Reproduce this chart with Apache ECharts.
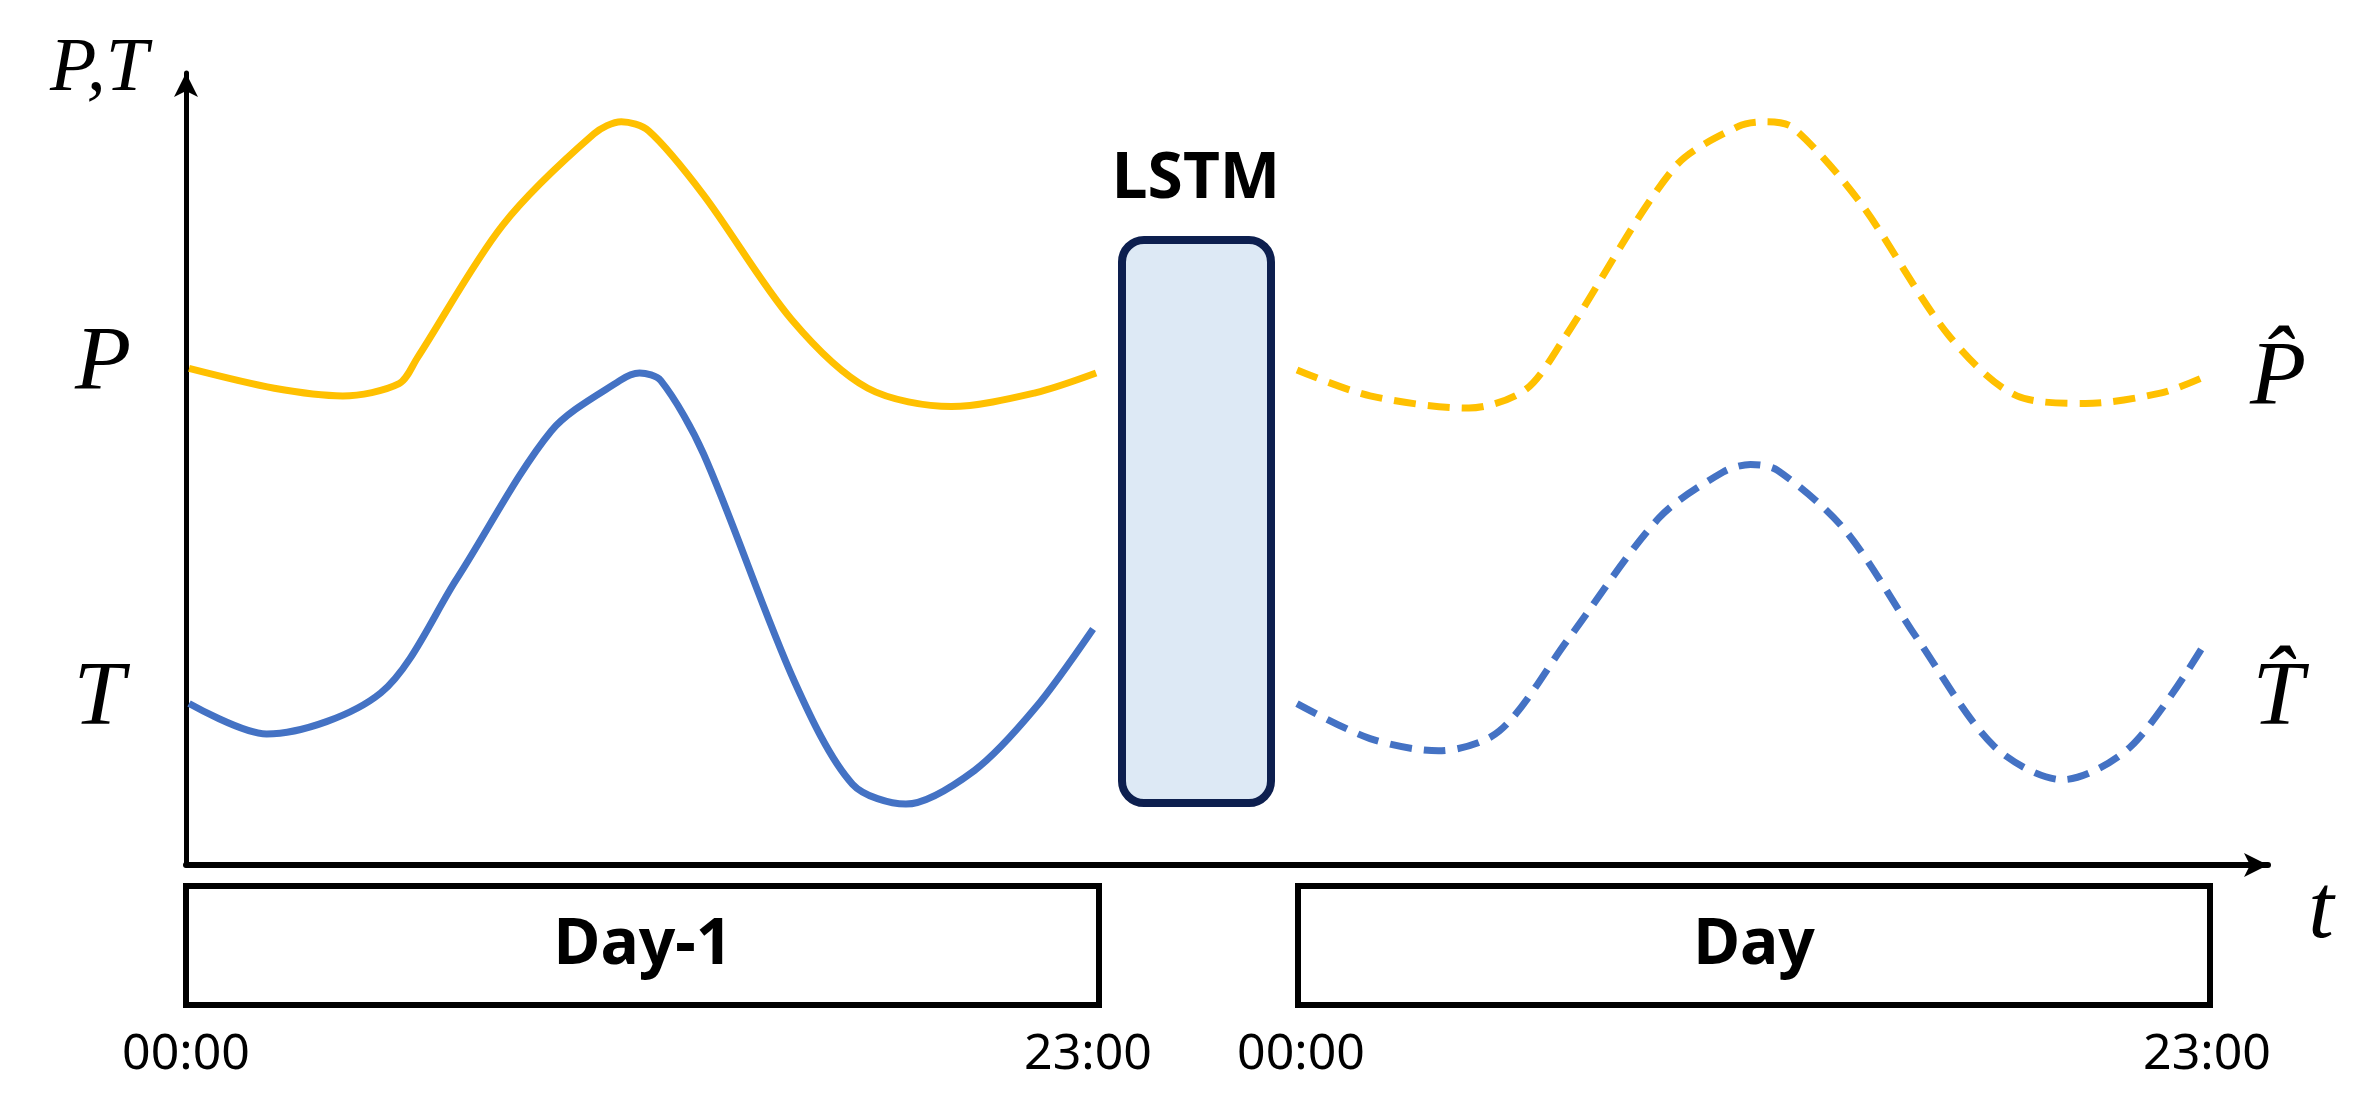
<!DOCTYPE html>
<html><head><meta charset="utf-8">
<script src="https://cdn.jsdelivr.net/npm/echarts@6/dist/echarts.min.js"></script>
<style>html,body{margin:0;padding:0;background:#fff}#c{width:2375px;height:1108px}</style>
</head><body><div id="c"></div>
<script>
const pDay1 = [[2,326],[58,313],[103,308],[140,316],[152,333],[208,420],[268,480],[286,488],[304,482],[340,440],[398,358],[448,313],[503,301],[558,310],[598,323]];
const tDay1 = [[2,106],[53,86],[128,113],[178,188],[240,285],[285,318],[298,323],[312,318],[340,270],[400,120],[438,53],[473,40],[518,62],[558,103],[596,155]];
const pDay = [[730,325],[778,308],[843,300],[880,312],[905,345],[978,458],[1020,485],[1038,488],[1056,484],[1100,435],[1158,348],[1203,308],[1248,303],[1298,310],[1325,320]];
const tDay = [[730,106],[778,83],[823,75],[863,88],[908,148],[968,228],[1010,258],[1028,263],[1046,259],[1090,220],[1138,148],[1188,78],[1233,56],[1278,78],[1325,143]];
const timeLabels = ['00:00','23:00','00:00','23:00'];
const dayLabels = ['Day-1','Day'];

const chart = echarts.init(document.getElementById('c'));
const YEL = '#FFC000', BLU = '#4472C4';
const serif = 'Liberation Serif';
function line(data, color, dashed){
  return {type:'line', data, smooth:0.3, showSymbol:false, silent:true,
    lineStyle:{color, width:7, type: dashed ? [22,12] : 'solid'}};
}
const txt = (x,y,t,size,opt) => Object.assign({type:'text', x, y, style:Object.assign({text:t, fontSize:size, fill:'#000', align:'center', verticalAlign:'middle'}, opt||{})});
chart.setOption({
  animation:false,
  grid:{left:186, right:107, top:73, bottom:243},
  xAxis:{type:'value', min:0, max:1368, splitLine:{show:false}, axisTick:{show:false}, axisLabel:{show:false},
    axisLine:{show:true, onZero:false, symbol:['none','arrow'], symbolSize:[18,24], lineStyle:{color:'#000', width:6}}},
  yAxis:{type:'value', min:0, max:520, splitLine:{show:false}, axisTick:{show:false}, axisLabel:{show:false},
    axisLine:{show:true, onZero:false, symbol:['none','arrow'], symbolSize:[18,24], lineStyle:{color:'#000', width:5}}},
  series:[line(pDay1,YEL,false), line(tDay1,BLU,false), line(pDay,YEL,true), line(tDay,BLU,true)],
  graphic:[
    {type:'rect', shape:{x:1122,y:240,width:149,height:563,r:22}, style:{fill:'#DDE9F5', stroke:'#0D1F4F', lineWidth:8}},
    txt(1196,180,'LSTM',64,{fontWeight:'bold', fontFamily:'Noto Sans'}),
    {type:'rect', shape:{x:186,y:886,width:913,height:119}, style:{fill:'#fff', stroke:'#000', lineWidth:6}},
    {type:'rect', shape:{x:1298,y:886,width:912,height:119}, style:{fill:'#fff', stroke:'#000', lineWidth:6}},
    txt(643,946,dayLabels[0],64,{fontWeight:'bold', fontFamily:'Noto Sans'}),
    txt(1754,946,dayLabels[1],64,{fontWeight:'bold', fontFamily:'Noto Sans'}),
    txt(186,1055,timeLabels[0],50,{fontFamily:'Noto Sans'}),
    txt(1088,1055,timeLabels[1],50,{fontFamily:'Noto Sans'}),
    txt(1301,1055,timeLabels[2],50,{fontFamily:'Noto Sans'}),
    txt(2207,1055,timeLabels[3],50,{fontFamily:'Noto Sans'}),
    txt(99,70,'P,T',76,{fontStyle:'italic', fontFamily:serif}),
    txt(103,365,'P',92,{fontStyle:'italic', fontFamily:serif}),
    txt(99,700,'T',92,{fontStyle:'italic', fontFamily:serif}),
    txt(2321,913,'t',92,{fontStyle:'italic', fontFamily:serif}),
    txt(2278,380,'P\u0302',92,{fontStyle:'italic', fontFamily:serif}),
    txt(2278,700,'T\u0302',92,{fontStyle:'italic', fontFamily:serif})
  ]
});
</script></body></html>
